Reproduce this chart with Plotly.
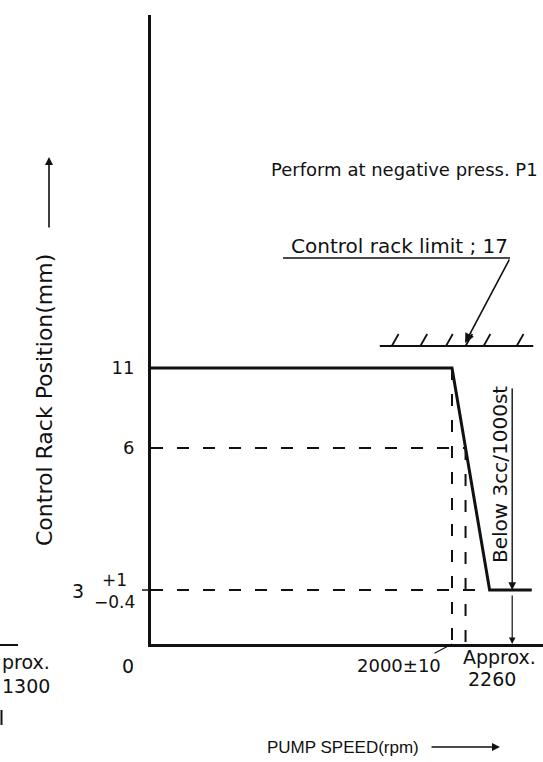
import numpy as np
import plotly.graph_objects as go

# Control rack position vs pump speed (schematic chart, axes not to scale)
CURVE_SPEED = [0, 2000, 2250, 2530]      # rpm
CURVE_RACK = [11, 11, 3, 3]              # mm
SPEED_AT_6 = 2090                        # where the drop passes 6 mm
RACK_TICKS = [6, 11]
RACK_TICK_TEXT = ["6", "11"]
LIMIT_RACK = 17
LIMIT_SPEED = [1520, 2540]
HATCH_SPEED = [1600, 1790, 1960, 2090, 2210, 2430]
CHECK_SPEED = 2400                       # "below 3cc/1000st" point

# schematic y scale: rack mm -> height above the x axis (px)
RACK_LEVELS = [0, 3, 6, 11, 17]
LEVEL_HEIGHT = [0, 54, 196, 276, 298]

W, H = 543, 762
L, R, T, B = 151, 0, 15, 118
PLOT_W, PLOT_H = W - L - R, H - T - B
X_MAX = 2000 * PLOT_W / 301


def rack_y(v):
    return np.interp(v, RACK_LEVELS, LEVEL_HEIGHT)


def px(x):
    return (x - L) / PLOT_W


def py(y):
    return (H - B - y) / PLOT_H


INK = "#111111"
FONT = "DejaVu Sans, Verdana, sans-serif"
NARROW = "Liberation Sans, Arial, sans-serif"
DASH = "12px,14px"


def label(x, y, text, size=19, xa="center", ya="middle", angle=0, family=FONT):
    return dict(x=px(x), y=py(y), xref="paper", yref="paper",
                xanchor=xa, yanchor=ya, textangle=angle, showarrow=False,
                text=text, font=dict(size=size, family=family))


fig = go.Figure()

# main characteristic
fig.add_trace(go.Scatter(
    x=CURVE_SPEED, y=rack_y(CURVE_RACK), mode="lines",
    line=dict(color=INK, width=3), hoverinfo="skip"
))

# dashed guide lines
guides = [
    ([0, SPEED_AT_6], [6, 6]),
    ([0, CURVE_SPEED[2]], [3, 3]),
    ([CURVE_SPEED[1], CURVE_SPEED[1]], [11, 0]),
    ([SPEED_AT_6, SPEED_AT_6], [6, 0]),
]
for gx, gy in guides:
    fig.add_trace(go.Scatter(
        x=gx, y=rack_y(gy), mode="lines",
        line=dict(color=INK, width=2, dash=DASH), hoverinfo="skip"
    ))

# control rack limit with hatching
y17 = float(rack_y(LIMIT_RACK))
fig.add_trace(go.Scatter(
    x=LIMIT_SPEED, y=[y17, y17], mode="lines",
    line=dict(color=INK, width=2), hoverinfo="skip"
))
hx, hy = [], []
for s in HATCH_SPEED:
    hx += [s, s + 45, None]
    hy += [y17, y17 + 12, None]
fig.add_trace(go.Scatter(
    x=hx, y=hy, mode="lines",
    line=dict(color=INK, width=1.8), hoverinfo="skip"
))

ann = []
# leader to rack limit
ann.append(dict(x=2087, y=y17 + 3, xref="x", yref="y", ax=45, ay=-85,
                text="", showarrow=True, arrowhead=2, arrowsize=1.2,
                arrowwidth=1.6, arrowcolor=INK))
ann.append(label(510, 246, "Control rack limit ; 17", size=20, xa="right"))
fig.add_shape(type="line", xref="paper", yref="paper",
              x0=px(283), x1=px(510), y0=py(258), y1=py(258),
              line=dict(color=INK, width=1.6))

ann.append(label(404, 170, "Perform at negative press. P1", size=18))

# below 3cc/1000st marking
y3 = float(rack_y(3))
ann.append(dict(x=CHECK_SPEED, y=y3, xref="x", yref="y", ax=0, ay=-203,
                text="", showarrow=True, arrowhead=2, arrowsize=1.1,
                arrowwidth=1.4, arrowcolor=INK))
ann.append(dict(x=CHECK_SPEED, y=0, xref="x", yref="y", ax=0, ay=-(y3 - 4),
                text="", showarrow=True, arrowhead=2, arrowsize=1.1,
                arrowwidth=1.2, arrowcolor=INK))
ann.append(label(500, 475, "Below 3cc/1000st", size=20, angle=-90))

# x labels
ann.append(dict(x=CURVE_SPEED[1], y=0, xref="x", yref="y", ax=-19, ay=10,
                text="", showarrow=True, arrowhead=0, arrowwidth=1.2,
                arrowcolor=INK))
ann.append(label(399, 665, "2000±10", size=18))
ann.append(label(499, 657, "Approx.", size=19))
ann.append(label(492, 679, "2260", size=19))
ann.append(label(128, 666, "0", size=19))

# 3 +1/-0.4 tick label
ann.append(label(86, 591, "3", size=19, xa="right"))
ann.append(label(92, 591, "+1<br>−0.4", size=17, xa="left"))
fig.add_shape(type="line", xref="paper", yref="y",
              x0=px(142), x1=px(151), y0=y3, y1=y3,
              line=dict(color=INK, width=1.5))

# axis titles with arrows
ann.append(label(44, 400, "Control Rack Position(mm)", size=22, angle=-90))
ann.append(dict(x=px(49), y=py(157), xref="paper", yref="paper",
                ax=0, ay=72, text="", showarrow=True, arrowhead=2,
                arrowsize=1, arrowwidth=1.6, arrowcolor=INK))
ann.append(label(343, 748, "PUMP SPEED(rpm)", size=17, family=NARROW))
ann.append(dict(x=px(500), y=py(747), xref="paper", yref="paper",
                ax=-70, ay=0, text="", showarrow=True, arrowhead=2,
                arrowsize=1, arrowwidth=1.6, arrowcolor=INK))

# visible fragment of the neighbouring chart at the left edge
ann.append(label(0, 662, "prox.", size=19, xa="left"))
ann.append(label(0, 686, "1300", size=19, xa="left"))
fig.add_shape(type="line", xref="paper", yref="paper",
              x0=px(0), x1=px(18), y0=py(645), y1=py(645),
              line=dict(color=INK, width=2))
fig.add_shape(type="line", xref="paper", yref="paper",
              x0=px(1.5), x1=px(1.5), y0=py(710), y1=py(725),
              line=dict(color=INK, width=2))

fig.update_layout(
    width=W, height=H,
    margin=dict(l=L, r=R, t=T, b=B, pad=0),
    paper_bgcolor="white", plot_bgcolor="white",
    showlegend=False,
    font=dict(family=FONT, size=18, color=INK),
    annotations=ann,
)
fig.update_xaxes(
    range=[0, X_MAX], showline=True, linewidth=3, linecolor=INK,
    showgrid=False, zeroline=False, showticklabels=False, ticks=""
)
fig.update_yaxes(
    range=[0, PLOT_H], showline=True, linewidth=3, linecolor=INK,
    showgrid=False, zeroline=False,
    tickvals=rack_y(RACK_TICKS), ticktext=RACK_TICK_TEXT,
    ticks="outside", ticklen=10, tickcolor="rgba(0,0,0,0)",
    tickfont=dict(size=18)
)

# page body has a default 8px margin; drop it so the figure fills the window
fig.write_html(
    "out.html",
    config={"displayModeBar": False},
    post_script="document.body.style.margin='0';document.body.style.overflow='hidden';",
)
